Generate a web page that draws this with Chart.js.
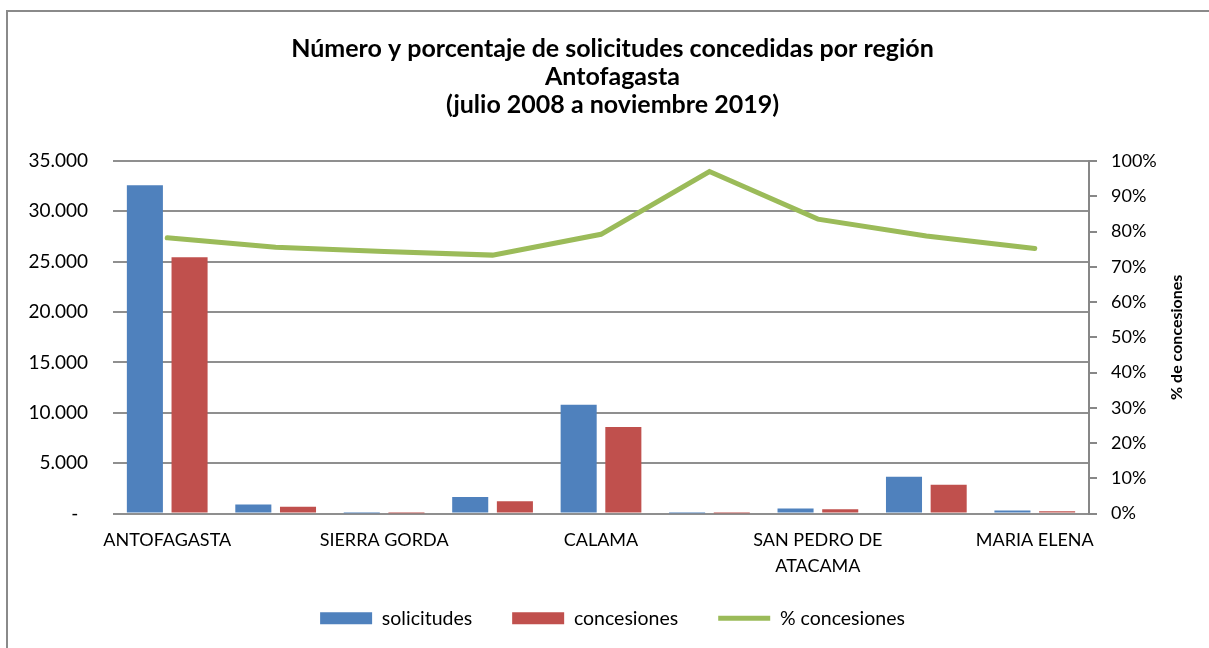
<!DOCTYPE html>
<html>
<head>
<meta charset="utf-8">
<script src="https://cdn.jsdelivr.net/npm/chart.js@4"></script>
<style>
  html, body { margin:0; padding:0; background:#fff; overflow:hidden; }
  #frame { position:absolute; left:6px; top:10px; width:1300px; height:700px; border:2px solid #8a8a8a; }
  #wrap { position:absolute; left:0; top:0; width:1209px; height:648px; }
</style>
</head>
<body>
<div id="frame"></div>
<div id="wrap"><canvas id="c" width="1209" height="648"></canvas></div>
<script>
const comunas = ['ANTOFAGASTA','MEJILLONES','SIERRA GORDA','TALTAL','CALAMA','OLLAGÜE','SAN PEDRO DE ATACAMA','TOCOPILLA','MARIA ELENA'];
const solicitudes = [32600, 890, 12, 1650, 10800, 8, 490, 3640, 290];
const concesiones = [25450, 670, 9, 1210, 8580, 8, 410, 2865, 218];
const pctConcesiones = [78.2, 75.5, 74.3, 73.3, 79.2, 97.0, 83.5, 78.7, 75.2];
const leftTicks = [0, 5000, 10000, 15000, 20000, 25000, 30000, 35000];

const FONT = "Lato, 'Open Sans', sans-serif";

function miles(v){
  if(v === 0) return '-  ';
  return String(v).replace(/\B(?=(\d{3})+(?!\d))/g, '.');
}

function wrap(label, max=12){
  const lines = [];
  let cur = '';
  for(const w of label.split(' ')){
    if(cur && (cur + ' ' + w).length > max){ lines.push(cur); cur = w; }
    else cur = cur ? cur + ' ' + w : w;
  }
  if(cur) lines.push(cur);
  return lines.length > 1 ? lines : lines[0];
}

// titulo del eje derecho, leido de abajo hacia arriba
const rightTitle = {
  id: 'rightTitle',
  afterDraw(chart){
    const s = chart.scales.y1, ctx = chart.ctx;
    ctx.save();
    ctx.translate(s.right - 32, (s.top + s.bottom) / 2);
    ctx.rotate(-Math.PI / 2);
    ctx.font = 'bold 16px ' + FONT;
    ctx.fillStyle = '#000';
    ctx.textAlign = 'center';
    ctx.textBaseline = 'middle';
    ctx.fillText('% de concesiones', 0, 0);
    ctx.restore();
  }
};

// la leyenda queda algo mas arriba, pegada a las etiquetas del eje x
const legendLift = {
  id: 'legendLift',
  afterLayout(chart){
    chart.legend.top -= 10;
    chart.legend.bottom -= 10;
  }
};

new Chart(document.getElementById('c'), {
  type: 'bar',
  data: {
    labels: comunas,
    datasets: [
      {label:'solicitudes', data:solicitudes, backgroundColor:'#4f81bd', borderWidth:0, yAxisID:'y', order:1,
       categoryPercentage:0.824, barPercentage:0.807},
      {label:'concesiones', data:concesiones, backgroundColor:'#c0504d', borderWidth:0, yAxisID:'y', order:1,
       categoryPercentage:0.824, barPercentage:0.807},
      {type:'line', label:'% concesiones', data:pctConcesiones, borderColor:'#9bbb59', backgroundColor:'#9bbb59',
       borderWidth:5, borderCapStyle:'round', pointRadius:0, tension:0, yAxisID:'y1', order:0}
    ]
  },
  options: {
    responsive: false,
    animation: false,
    layout: { padding: { left:16, right:0, top:0, bottom:0 } },
    plugins: {
      title: {
        display: true,
        text: ['Número y porcentaje de solicitudes concedidas por región', 'Antofagasta', '(julio 2008 a noviembre 2019)'],
        color: '#000',
        font: { family: FONT, size: 25, weight: 'bold', lineHeight: 28/25 },
        padding: { top: 35, bottom: 42 }
      },
      legend: {
        position: 'bottom',
        labels: {
          color: '#000',
          font: { family: FONT, size: 19.5 },
          usePointStyle: true,
          pointStyleWidth: 52,
          boxHeight: 12,
          padding: 40,
          generateLabels(chart){
            const items = Chart.defaults.plugins.legend.labels.generateLabels(chart);
            items.forEach(it => { it.pointStyle = chart.data.datasets[it.datasetIndex].type === 'line' ? 'line' : 'rect'; });
            return items.sort((a,b) => a.datasetIndex - b.datasetIndex);
          }
        }
      },
      tooltip: { enabled: false }
    },
    scales: {
      x: {
        grid: { display: false, drawTicks: false },
        border: { display: false },
        ticks: {
          color: '#000', autoSkip: false, maxRotation: 0, padding: 14,
          font: { family: FONT, size: 18, lineHeight: 1.44 },
          callback: (v, i) => i % 2 ? '' : wrap(comunas[i])
        },
        afterFit: s => { s.height = 65; }
      },
      y: {
        position: 'left',
        min: 0, max: 35000,
        afterBuildTicks: s => { s.ticks = leftTicks.map(v => ({value:v})); },
        grid: { color:'#8f8f8f', lineWidth:2, drawTicks:false },
        border: { display: false },
        ticks: { color:'#000', padding:25, font:{ family: FONT, size: 19 }, callback: v => miles(v) },
        afterFit: s => { s.width = 97; }
      },
      y1: {
        position: 'right',
        min: 0, max: 100,
        grid: { drawOnChartArea:false, color:'#878787', lineWidth:2, tickLength:8 },
        border: { display:true, color:'#878787', width:2 },
        ticks: { color:'#000', stepSize:10, padding:14, font:{ family: FONT, size: 18 }, callback: v => v + '%' },
        afterFit: s => { s.width = 120; }
      }
    }
  },
  plugins: [rightTitle, legendLift]
});
</script>
</body>
</html>
